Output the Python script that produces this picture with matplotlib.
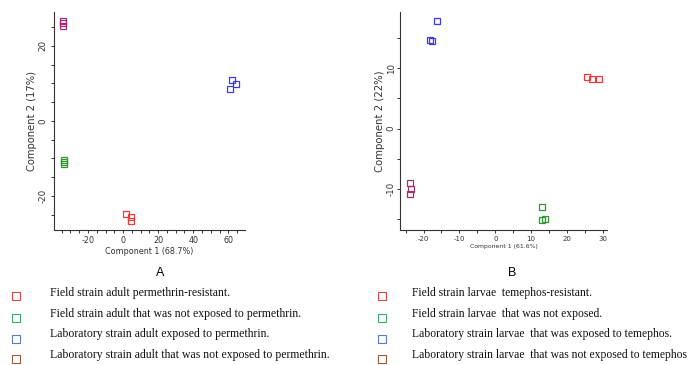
import matplotlib
matplotlib.use('Agg')
import matplotlib.pyplot as plt
from matplotlib.ticker import MultipleLocator

plt.rcParams['axes.unicode_minus'] = False

# panel A: adults, permethrin
a_groups = ['field_resistant', 'field_unexposed', 'lab_exposed', 'lab_unexposed']
a_x = {
    'field_resistant': [1.7, 4.4, 4.4],
    'field_unexposed': [-33.8, -33.6, -33.7],
    'lab_exposed': [61.9, 64.4, 61.0],
    'lab_unexposed': [-34.1, -34.0, -34.2],
}
a_y = {
    'field_resistant': [-24.9, -25.6, -26.7],
    'field_unexposed': [-10.5, -11.5, -10.9],
    'lab_exposed': [10.9, 9.8, 8.5],
    'lab_unexposed': [26.6, 26.0, 25.4],
}

# panel B: larvae, temephos
b_x = {
    'field_resistant': [25.5, 27.1, 28.8],
    'field_unexposed': [12.9, 13.0, 14.0],
    'lab_exposed': [-16.2, -18.2, -17.6],
    'lab_unexposed': [-23.7, -23.6, -23.8],
}
b_y = {
    'field_resistant': [8.55, 8.3, 8.3],
    'field_unexposed': [-13.0, -15.3, -15.1],
    'lab_exposed': [17.9, 14.7, 14.5],
    'lab_unexposed': [-9.1, -10.0, -10.9],
}

point_colors = {
    'field_resistant': '#e83c3c',
    'field_unexposed': '#2e9a2e',
    'lab_exposed': '#3c3ce6',
    'lab_unexposed': '#a3306e',
}
legend_colors = ['#d84848', '#3aaa6a', '#5a7ec0', '#9a5a36']

a_labels = [
    'Field strain adult permethrin-resistant.',
    'Field strain adult that was not exposed to permethrin.',
    'Laboratory strain adult exposed to permethrin.',
    'Laboratory strain adult that was not exposed to permethrin.',
]
b_labels = [
    'Field strain larvae  temephos-resistant.',
    'Field strain larvae  that was not exposed.',
    'Laboratory strain larvae  that was exposed to temephos.',
    'Laboratory strain larvae  that was not exposed to temephos',
]

fig = plt.figure(figsize=(6.9, 3.65), dpi=100)


def style_axes(ax, xlim, ylim, xmaj, ymaj, xlabel, ylabel,
               xtsize, ytsize, xlsize, ylsize, ytpad, ypad):
    ax.set_xlim(*xlim)
    ax.set_ylim(*ylim)
    ax.xaxis.set_major_locator(MultipleLocator(xmaj))
    ax.yaxis.set_major_locator(MultipleLocator(ymaj))
    ax.xaxis.set_minor_locator(MultipleLocator(5))
    ax.yaxis.set_minor_locator(MultipleLocator(5))
    for s in ['top', 'right']:
        ax.spines[s].set_visible(False)
    for s in ['left', 'bottom']:
        ax.spines[s].set_color('#333333')
        ax.spines[s].set_linewidth(0.8)
    ax.tick_params(which='both', direction='out', length=2.5, width=0.7,
                   color='#333333', labelcolor='#333333')
    ax.tick_params(axis='x', labelsize=xtsize, pad=2)
    ax.tick_params(axis='y', labelsize=ytsize, pad=ytpad)
    for t in ax.get_yticklabels():
        t.set_rotation(90)
        t.set_va('center')
    ax.set_xlabel(xlabel, fontsize=xlsize, color='#333333', labelpad=1.5)
    ax.set_ylabel(ylabel, fontsize=ylsize, color='#333333', labelpad=ypad)


axA = fig.add_axes([0.078, 0.370, 0.277, 0.597])
for g in a_groups:
    axA.plot(a_x[g], a_y[g], 's', mfc='none', mec=point_colors[g], ms=4.2, mew=0.9)
style_axes(axA, (-39.5, 69.5), (-29.1, 29.0), 20, 20,
           'Component 1 (68.7%)', 'Component 2 (17%)',
           5.8, 6.3, 5.8, 7.2, 2, 1)

axB = fig.add_axes([0.580, 0.370, 0.300, 0.597])
for g in a_groups:
    axB.plot(b_x[g], b_y[g], 's', mfc='none', mec=point_colors[g], ms=4.2, mew=0.9)
style_axes(axB, (-26.5, 31.2), (-16.9, 19.4), 10, 10,
           'Component 1 (61.6%)', 'Component 2 (22%)',
           5.0, 6.3, 4.4, 7.3, 0.8, 1.5)

fig.text(0.232, 0.252, 'A', fontsize=9, family='Liberation Sans', ha='center', va='center')
fig.text(0.743, 0.252, 'B', fontsize=9, family='Liberation Sans', ha='center', va='center')

# legend area
leg = fig.add_axes([0, 0, 1, 1], zorder=-1)
leg.set_xlim(0, 690)
leg.set_ylim(365, 0)
leg.axis('off')
rows_y = [295.5, 317.5, 338.5, 358.5]
text_y = [293, 313.5, 334.5, 355]
for i in range(4):
    leg.plot([16], [rows_y[i]], 's', mfc='none', mec=legend_colors[i], ms=6, mew=0.8)
    leg.text(50, text_y[i], a_labels[i], fontsize=8.5, family='Liberation Serif',
             va='center', ha='left', color='#111111')
    leg.plot([381.5], [rows_y[i]], 's', mfc='none', mec=legend_colors[i], ms=6, mew=0.8)
    leg.text(411.5, text_y[i], b_labels[i], fontsize=8.4, family='Liberation Serif',
             va='center', ha='left', color='#111111')

fig.savefig('out.png', dpi=100)
